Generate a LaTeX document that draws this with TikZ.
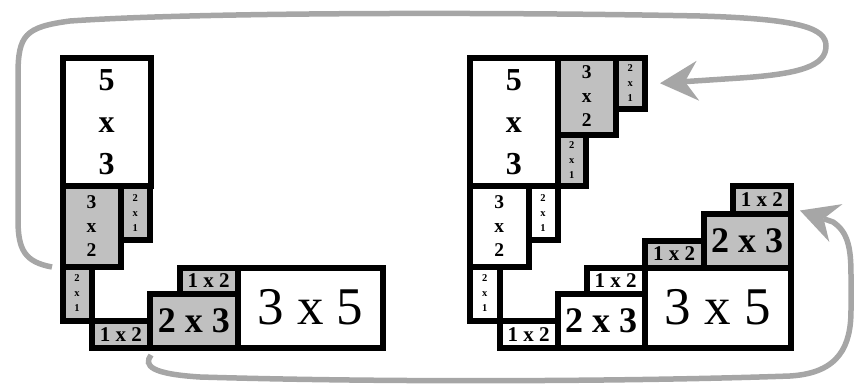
\documentclass[tikz,border=0pt]{standalone}
\usepackage{fontspec}
\setmainfont{Liberation Serif}
\usetikzlibrary{arrows.meta}
\definecolor{boxgray}{RGB}{192,192,192}
\definecolor{arrgray}{RGB}{166,166,166}
\newcommand{\rbox}[7]{\node[box,#6,minimum width={(#3-#1)*1pt},minimum height={(#4-#2)*1pt}] (#5) at ({(#1+#3)/2},{(#2+#4)/2}) {#7};}
\tikzset{
  box/.style={draw=black,line width=6pt,inner sep=0pt,align=center},
  wbox/.style={fill=white},
  gbox/.style={fill=boxgray},
  ffivethree/.style={font=\bfseries\fontsize{32}{42}\selectfont},
  fthreetwo/.style={font=\bfseries\fontsize{19.5}{24}\selectfont},
  ftwoone/.style={font=\bfseries\fontsize{10.5}{15}\selectfont},
  fonetwo/.style={font=\bfseries\fontsize{21}{24}\selectfont},
  ftwothree/.style={font=\bfseries\fontsize{36}{40}\selectfont},
  fthreefive/.style={font=\fontsize{53}{60}\selectfont},
  arrowline/.style={draw=arrgray,line width=5.5pt,-{Stealth[length=38pt,width=40pt,inset=13pt,line width=0pt]}}
}
\begin{document}
\begin{tikzpicture}[x=1pt,y=-1pt]
\useasboundingbox (0,0) rectangle (855,386);
% left figure
\rbox{62.5}{58}{150.5}{186}{L53}{wbox,ffivethree}{5\\x\\3}
\rbox{62.5}{186}{120.5}{266.5}{L32}{gbox,fthreetwo}{3\\x\\2}
\rbox{120.5}{186}{150}{240}{L21a}{gbox,ftwoone}{2\\x\\1}
\rbox{62.5}{266.5}{91.5}{320.5}{L21b}{gbox,ftwoone}{2\\x\\1}
\rbox{91.5}{321}{150}{347.5}{L12a}{gbox,fonetwo}{1 x 2}
\rbox{150}{294}{237.5}{347.5}{L23}{gbox,ftwothree}{2 x 3}
\rbox{179.5}{267.5}{237.5}{294}{L12b}{gbox,fonetwo}{1 x 2}
\rbox{237.5}{267.5}{383}{347.5}{L35}{wbox,fthreefive}{3 x 5}
% right figure
\rbox{470}{58}{557.5}{186}{R53}{wbox,ffivethree}{5\\x\\3}
\rbox{557.5}{58}{616}{134.5}{R32g}{gbox,fthreetwo}{3\\x\\2}
\rbox{616}{58}{644.5}{108.5}{R21g}{gbox,ftwoone}{2\\x\\1}
\rbox{557.5}{134.5}{586}{186}{R21gb}{gbox,ftwoone}{2\\x\\1}
\rbox{470}{186}{528.5}{266.5}{R32w}{wbox,fthreetwo}{3\\x\\2}
\rbox{528.5}{186}{557.5}{240}{R21w}{wbox,ftwoone}{2\\x\\1}
\rbox{470}{266.5}{499.5}{320.5}{R21wb}{wbox,ftwoone}{2\\x\\1}
\rbox{499.5}{321}{557.5}{347.5}{R12w}{wbox,fonetwo}{1 x 2}
\rbox{557.5}{294}{644.5}{347.5}{R23w}{wbox,ftwothree}{2 x 3}
\rbox{586.5}{267.5}{644.5}{294}{R12wb}{wbox,fonetwo}{1 x 2}
\rbox{644.5}{267.5}{790.5}{347.5}{R35}{wbox,fthreefive}{3 x 5}
\rbox{644.5}{240.5}{703.5}{267.5}{R12g}{gbox,fonetwo}{1 x 2}
\rbox{703.5}{213.5}{790.5}{267.5}{R23g}{gbox,ftwothree}{2 x 3}
\rbox{733}{186}{790.5}{213.5}{R12gb}{gbox,fonetwo}{1 x 2}
% connectors
\draw[arrowline] ([xshift=-7.5pt,yshift=2.5pt]L32.south west)
  .. controls (25,262) and (18,250) .. (18,220) -- (18,75)
  .. controls (18,35) and (25,27) .. (70,21)
  .. controls (200,12) and (500,12) .. (700,16)
  .. controls (800,19) and (826,28) .. (826,46)
  .. controls (826,66) and (800,74) .. (740,78)
  -- ([xshift=12.5pt]R21g.east);
\draw[arrowline] ([xshift=-2pt,yshift=-4.5pt]L12a.south east)
  .. controls (143,366) and (152,374) .. (200,377)
  .. controls (400,383) and (650,381) .. (790,376)
  .. controls (840,373) and (851,345) .. (851,310) -- (851,275)
  .. controls (851,248) and (848,232) .. (833,222)
  -- ([xshift=6.5pt]R23g.north east);
\end{tikzpicture}
\end{document}
